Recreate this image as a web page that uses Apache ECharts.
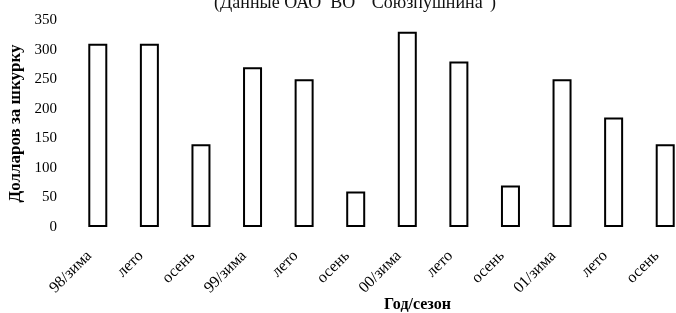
<!DOCTYPE html>
<html>
<head>
<meta charset="utf-8">
<script src="https://cdn.jsdelivr.net/npm/echarts@6/dist/echarts.min.js"></script>
<style>
	html, body { margin: 0; padding: 0; background: #fff; }
	#chart { width: 676px; height: 313px; }
</style>
</head>
<body>
<div id="chart"></div>
<script>

// данные
var seasons = ['98/зима', 'лето', 'осень', '99/зима', 'лето', 'осень',
	'00/зима', 'лето', 'осень', '01/зима', 'лето', 'осень'];
var prices = [310, 310, 140, 270, 250, 60, 330, 280, 70, 250, 185, 140];
var yTicks = [0, 50, 100, 150, 200, 250, 300, 350];

var serif = 'Liberation Serif';

function initChart() {
	var myChart = echarts.init(document.getElementById('chart'));

	var option = {
		animation : false,
		backgroundColor : '#fff',
		title : {
			text : '(Данные ОАО  ВО  "Союзпушнина")',
			left : 350,
			top : -11,
			textAlign : 'center',
			textStyle : {
				fontFamily : serif,
				fontWeight : 'normal',
				fontSize : 18,
				color : '#111'
			}
		},
		grid : {
			left : 72,
			right : -15,
			top : 20,
			bottom : 86,
			outerBoundsMode : 'none'
		},
		xAxis : {
			type : 'category',
			data : seasons,
			name : 'Год/сезон',
			nameLocation : 'middle',
			nameGap : 70,
			nameMoveOverlap : false,
			nameTextStyle : {
				fontFamily : serif,
				fontWeight : 'bold',
				fontSize : 16,
				color : '#000',
				padding : [0, 0, 0, 72]
			},
			axisLine : { show : false },
			axisTick : { show : false },
			axisLabel : {
				rotate : 45,
				margin : 18,
				padding : [0, 12, 0, 0],
				fontFamily : serif,
				fontSize : 16,
				color : '#000'
			}
		},
		yAxis : {
			type : 'value',
			min : 0,
			max : yTicks[yTicks.length - 1],
			interval : 50,
			name : 'Долларов за шкурку',
			nameLocation : 'middle',
			nameGap : 48,
			nameRotate : 90,
			nameMoveOverlap : false,
			nameTextStyle : {
				fontFamily : serif,
				fontWeight : 'bold',
				fontSize : 17,
				color : '#000'
			},
			axisLine : { show : false },
			axisTick : { show : false },
			splitLine : { show : false },
			axisLabel : {
				margin : 15,
				fontFamily : serif,
				fontSize : 15,
				color : '#000'
			}
		},
		series : [ {
			type : 'bar',
			data : prices,
			barWidth : 19,
			itemStyle : {
				color : '#fff',
				borderColor : '#000',
				borderWidth : 2
			}
		} ]
	};

	myChart.setOption(option);
}

initChart();
</script>
</body>
</html>
